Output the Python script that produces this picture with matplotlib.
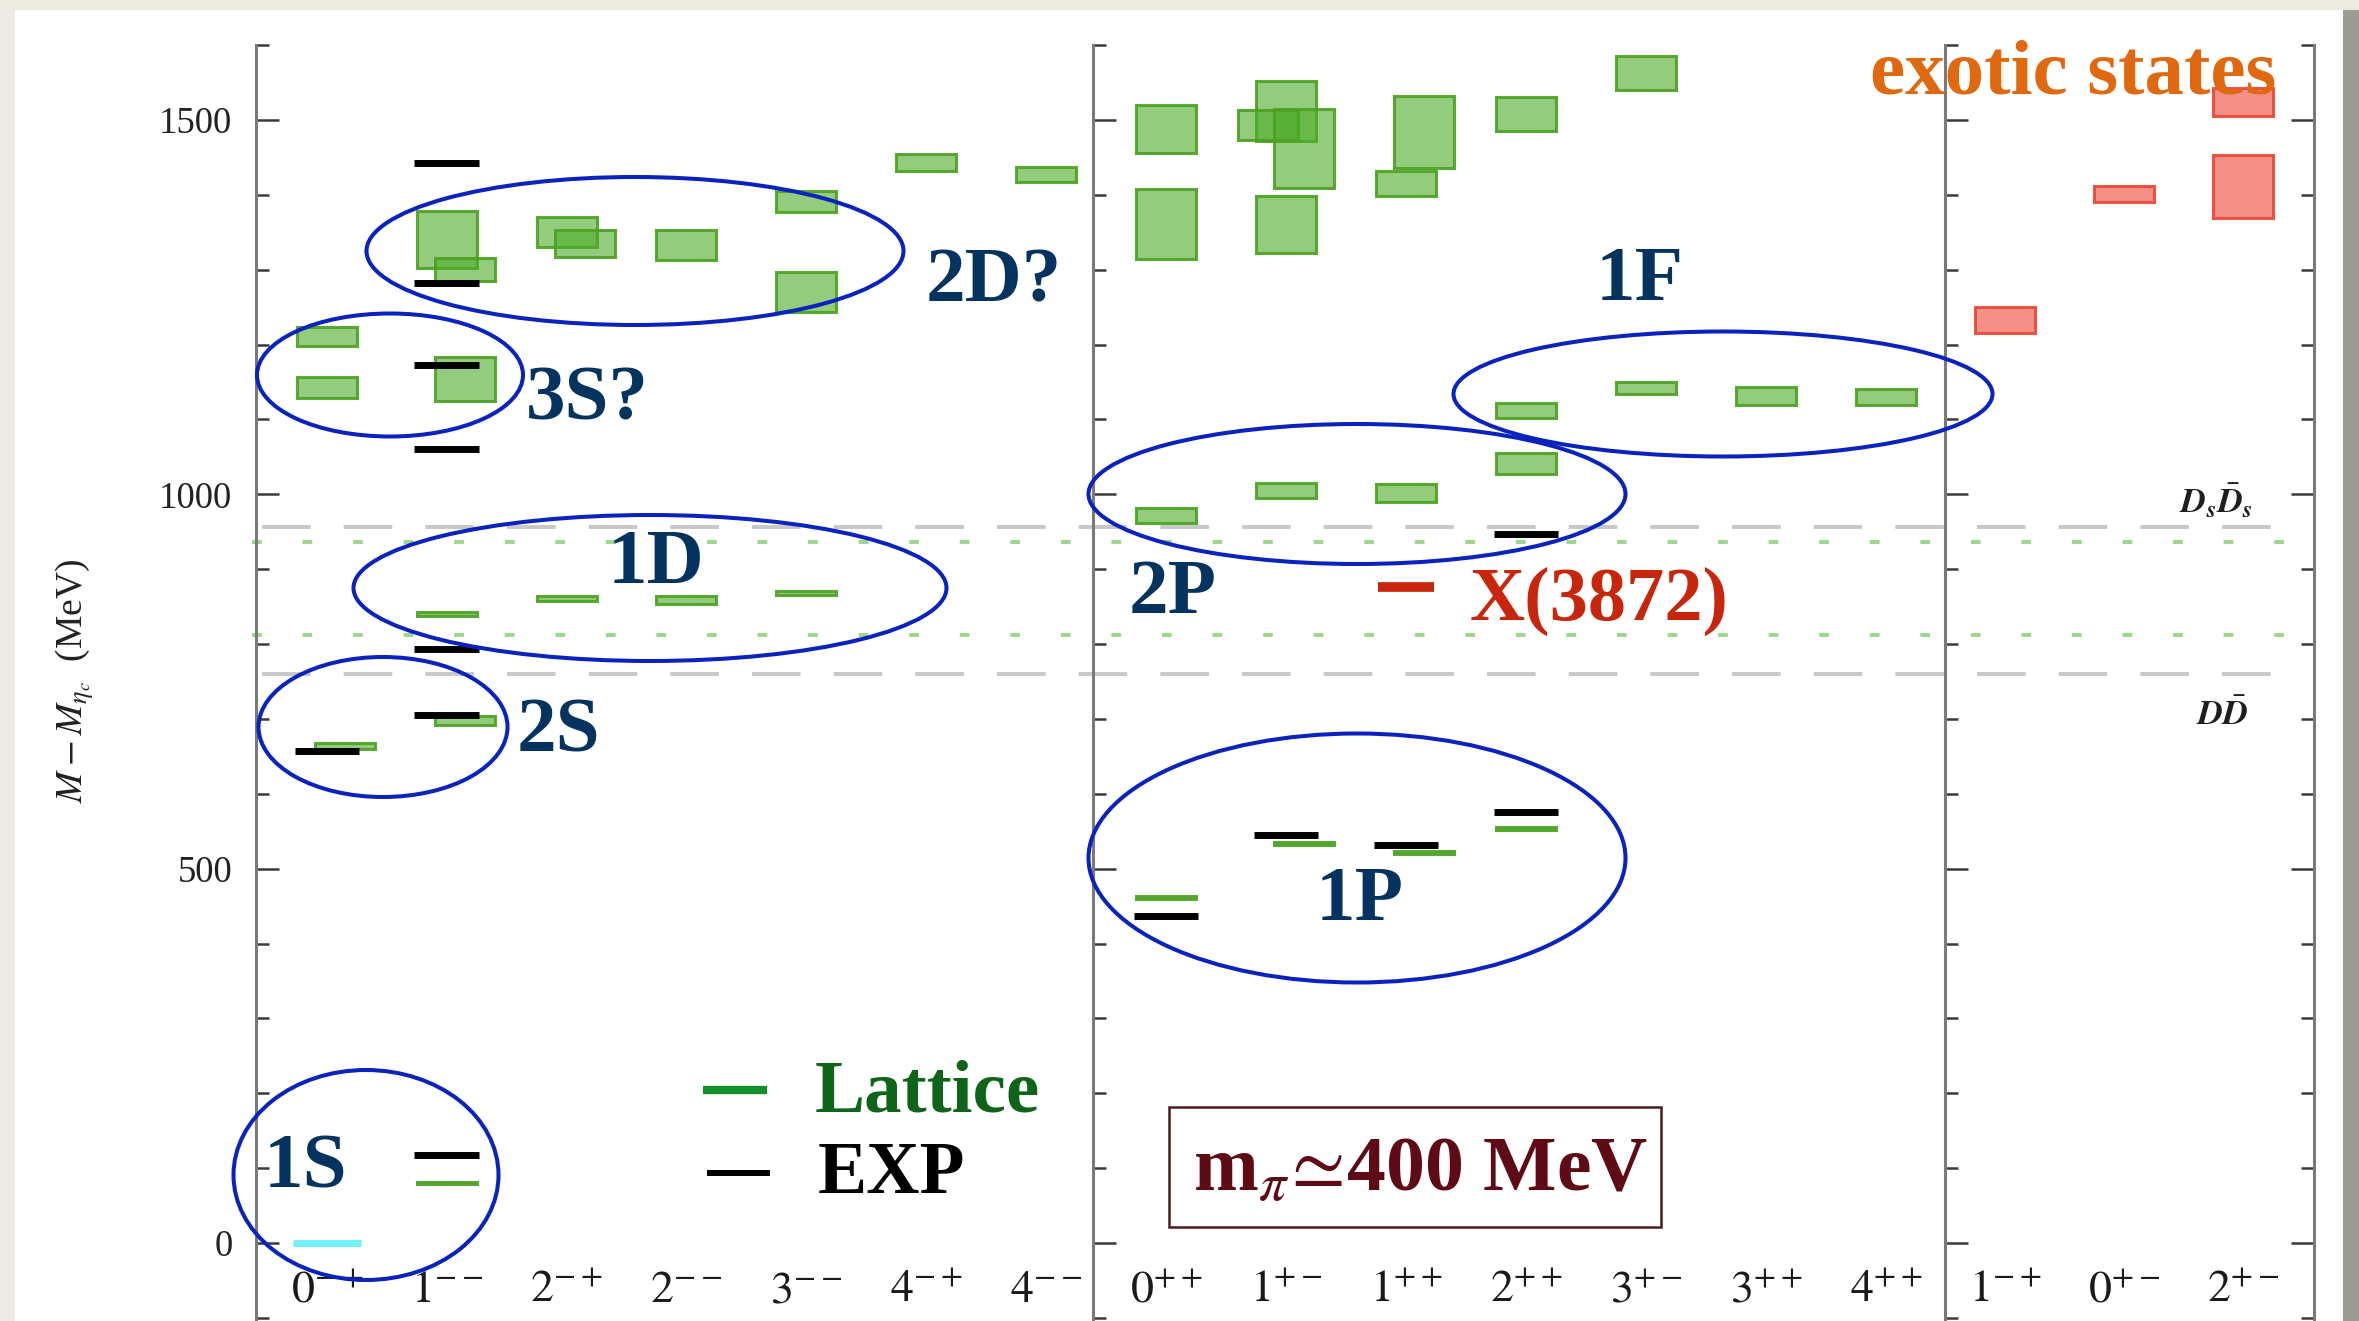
import matplotlib
matplotlib.use('Agg')
import matplotlib.pyplot as plt
import numpy as np
from matplotlib.patches import Ellipse, Rectangle
from matplotlib.lines import Line2D
from matplotlib.ticker import MultipleLocator
from matplotlib.transforms import blended_transform_factory

plt.rcParams['font.family'] = ['Liberation Serif', 'DejaVu Serif']
plt.rcParams['mathtext.fontset'] = 'stix'

# J^PC channels of the three panels
cats_1 = ['0^{-+}', '1^{--}', '2^{-+}', '2^{--}', '3^{--}', '4^{-+}', '4^{--}']
cats_2 = ['0^{++}', '1^{+-}', '1^{++}', '2^{++}', '3^{+-}', '3^{++}', '4^{++}']
cats_3 = ['1^{-+}', '0^{+-}', '2^{+-}']

# experimental levels, M - M_etac (MeV)
exp1_cat = [1, 0, 1, 1, 1, 1, 1, 1]
exp1_val = [117, 657, 705, 793, 1061, 1173, 1282, 1442]
exp2_cat = [0, 1, 2, 3, 3]
exp2_val = [437, 545, 531, 576, 947]

# lattice levels: channel, central value, half band (MeV)
lat1_cat = [1, 0, 1, 1, 2, 3, 4, 0, 0, 1, 1, 1, 2, 2, 3, 4, 4, 5, 6]
lat1_val = [80, 664, 698, 840, 861, 859, 868, 1143, 1211, 1154, 1340, 1300,
            1350, 1335, 1333, 1391, 1270, 1443, 1427]
lat1_err = [1.5, 4, 6, 2.5, 3, 5, 3, 14, 13, 29, 38, 15, 20, 18, 20, 14, 27, 11, 10]
lat1_nudge = [0, .15, .15, 0, 0, 0, 0, 0, 0, .15, 0, .15, 0, .15, 0, 0, 0, 0, 0]

lat2_cat = [0, 1, 2, 3, 0, 1, 2, 3, 3, 4, 5, 6, 0, 0, 1, 1, 1, 1, 2, 2, 3, 4]
lat2_val = [462, 534, 522, 553, 972, 1005, 1002, 1041, 1112, 1142, 1131, 1130,
            1488, 1361, 1512, 1493, 1462, 1360, 1484, 1415, 1508, 1563]
lat2_err = [2, 2, 2, 2, 10, 10, 12, 14, 10, 8, 12, 11, 32, 47, 40, 20, 53, 38,
            48, 17, 23, 23]
lat2_nudge = [0, .15, .15, 0, 0, 0, 0, 0, 0, 0, 0, 0, 0, 0, 0, -.15, .15, 0,
              .15, 0, 0, 0]

lat3_cat = [0, 1, 2, 2]
lat3_val = [1233, 1401, 1524, 1411]
lat3_err = [17, 11, 19, 42]

etac_val = 0
x3872_cat, x3872_val = 2, 876

# open-charm thresholds: physical (grey) and lattice (green)
thr_phys = [956, 760]
thr_latt = [936, 812]

W, H = 2359, 1321
fig = plt.figure(figsize=(W / 100, H / 100), dpi=100, facecolor='#ECEBE1')


def fx(x):
    return x / W


def fy(y):
    return 1 - y / H


fig.add_artist(Rectangle((fx(15), 0), (2343 - 15) / W, 1 - 10 / H,
                         transform=fig.transFigure, fc='white', ec='none', zorder=0))
fig.add_artist(Rectangle((fx(2343), 0), 16 / W, 1 - 10 / H,
                         transform=fig.transFigure, fc='#9C9C95', ec='none', zorder=0))

ylo, yhi = -104.2, 1600
top = 1 - 45.1 / H
ax1 = fig.add_axes([fx(256), 0, 837 / W, top])
ax2 = fig.add_axes([fx(1093), 0, 852 / W, top])
ax3 = fig.add_axes([fx(1945), 0, 369 / W, top])
axes = [ax1, ax2, ax3]
xlims = [(-0.593, 6.394), (-0.608, 6.492), (-0.504, 2.597)]

for ax, xl, cats in zip(axes, xlims, [cats_1, cats_2, cats_3]):
    ax.set_zorder(1)
    ax.set_xlim(xl)
    ax.set_ylim(ylo, yhi)
    ax.patch.set_visible(False)
    for s in ['top', 'bottom', 'right']:
        ax.spines[s].set_visible(False)
    ax.spines['left'].set_color('#7a7a7a')
    ax.spines['left'].set_linewidth(2.2)
    ax.set_xticks([])
    ax.yaxis.set_major_locator(MultipleLocator(500))
    ax.yaxis.set_minor_locator(MultipleLocator(100))
    ax.tick_params(axis='y', which='both', direction='in', color='#3a3a3a', width=1.8)
    ax.tick_params(axis='y', which='major', length=16.5)
    ax.tick_params(axis='y', which='minor', length=9.4)
    for i, lab in enumerate(cats):
        ax.text(i, -79, '$' + lab + '$', ha='center', va='baseline',
                fontsize=33, color='#1a1a1a')

ax1.tick_params(axis='y', labelsize=26.5, pad=17, labelcolor='#222222')
ax2.tick_params(axis='y', labelleft=False)
ax3.tick_params(axis='y', labelleft=False, right=True, which='both')
ax3.spines['right'].set_visible(True)
ax3.spines['right'].set_color('#7a7a7a')
ax3.spines['right'].set_linewidth(2.2)

green_face = (0.30, 0.67, 0.16, 0.6)
green_edge = (0.29, 0.63, 0.12, 0.9)
red_face = (0.93, 0.28, 0.22, 0.6)
red_edge = (0.91, 0.27, 0.20, 0.9)


def lattice(ax, cat, val, err, nudge, fc, ec):
    x = np.array(cat) + np.array(nudge)
    v = np.array(val, float)
    e = np.array(err, float)
    ax.bar(x, 2 * e, bottom=v - e, width=0.5, facecolor=fc, edgecolor=ec,
           linewidth=2.2, zorder=3)


def experiment(ax, cat, val, color='black', lw=5, half=0.27):
    x = np.array(cat, float)
    lc = ax.hlines(val, x - half, x + half, colors=color, linewidth=lw, zorder=4)
    lc.set_capstyle('butt')


lattice(ax1, lat1_cat, lat1_val, lat1_err, lat1_nudge, green_face, green_edge)
lattice(ax2, lat2_cat, lat2_val, lat2_err, lat2_nudge, green_face, green_edge)
lattice(ax3, lat3_cat, lat3_val, lat3_err, [0] * len(lat3_cat), red_face, red_edge)
experiment(ax1, exp1_cat, exp1_val)
experiment(ax2, exp2_cat, exp2_val)
experiment(ax1, [0], [etac_val], color='#72F2F8', lw=5, half=0.28)
experiment(ax2, [x3872_cat], [x3872_val], color='#C8260C', lw=7, half=0.23)

# thresholds run across all three panels
tr = blended_transform_factory(fig.transFigure, ax1.transData)
for v in thr_phys:
    fig.add_artist(Line2D([fx(262), fx(2296)], [v, v], transform=tr, color='#C8C8C8',
                          lw=2.8, ls=(0, (12.5, 8.5)), zorder=0.5))
for v in thr_latt:
    fig.add_artist(Line2D([fx(252), fx(2296)], [v, v], transform=tr, color='#9CD68C',
                          lw=2.8, ls=(0, (2.5, 10.5)), zorder=0.5))

# multiplet ellipses (pixel centre, width, height)
rings = [(366, 1175, 265, 210), (383, 727, 249, 140), (650, 588, 593, 146),
         (390, 375, 266, 123), (635, 251, 537, 148), (1357, 494, 537, 140),
         (1357, 858, 537, 249), (1723, 394, 539, 125)]
for cx, cy, w, h in rings:
    fig.add_artist(Ellipse((fx(cx), fy(cy)), w / W, h / H, transform=fig.transFigure,
                           fill=False, ec='#0A23BE', lw=2.9, zorder=4))

navy = '#03335E'
tags = [('1S', 264, 1187), ('2S', 517, 752), ('3S?', 526, 420), ('1D', 608, 583),
        ('2D?', 926, 302), ('2P', 1129, 613), ('1P', 1316, 920), ('1F', 1596, 300)]
for t, x, y in tags:
    fig.text(fx(x), fy(y), t, fontsize=57, fontweight='bold', color=navy,
             va='baseline', zorder=5)

fig.text(fx(1470), fy(620), 'X(3872)', fontsize=55, fontweight='bold',
         color='#C8260C', va='baseline', zorder=5)
fig.text(fx(1870), fy(93), 'exotic states', fontsize=57, fontweight='bold',
         color='#E0680F', va='baseline', zorder=5)

# legend
fig.add_artist(Line2D([fx(703), fx(767)], [fy(1090)] * 2, color='#12902A', lw=6,
                      solid_capstyle='butt', zorder=5))
fig.add_artist(Line2D([fx(707), fx(770)], [fy(1173)] * 2, color='black', lw=4.3,
                      solid_capstyle='butt', zorder=5))
fig.text(fx(815), fy(1111), 'Lattice', fontsize=54, fontweight='bold',
         color='#0E6418', va='baseline', zorder=5)
fig.text(fx(818), fy(1193), 'EXP', fontsize=53, fontweight='bold',
         color='black', va='baseline', zorder=5)

fig.add_artist(Rectangle((fx(1169), fy(1227)), (1661 - 1169) / W, (1227 - 1107) / H,
                         transform=fig.transFigure, fill=False, ec='#4B1D1D',
                         lw=1.8, zorder=5))
fig.text(fx(1193), fy(1190), r'm$_\pi\!\simeq\!$400 MeV', fontsize=56,
         fontweight='bold', color='#5E0B16', va='baseline', zorder=5)

fig.text(fx(2179), fy(513), r'$\mathbfit{D}_{\mathbfit{s}}\bar{\mathbfit{D}}_{\mathbfit{s}}$',
         fontsize=25, color='#1e1e1e', va='baseline', zorder=5)
fig.text(fx(2196), fy(725), r'$\mathbfit{D}\bar{\mathbfit{D}}$', fontsize=25,
         color='#1e1e1e', va='baseline', zorder=5)

fig.text(fx(75), fy(681), r'$M-M_{\eta_c}$  (MeV)', rotation=90, ha='center',
         va='center', fontsize=27, color='#222222')

fig.savefig('out.png', dpi=100, facecolor=fig.get_facecolor())
